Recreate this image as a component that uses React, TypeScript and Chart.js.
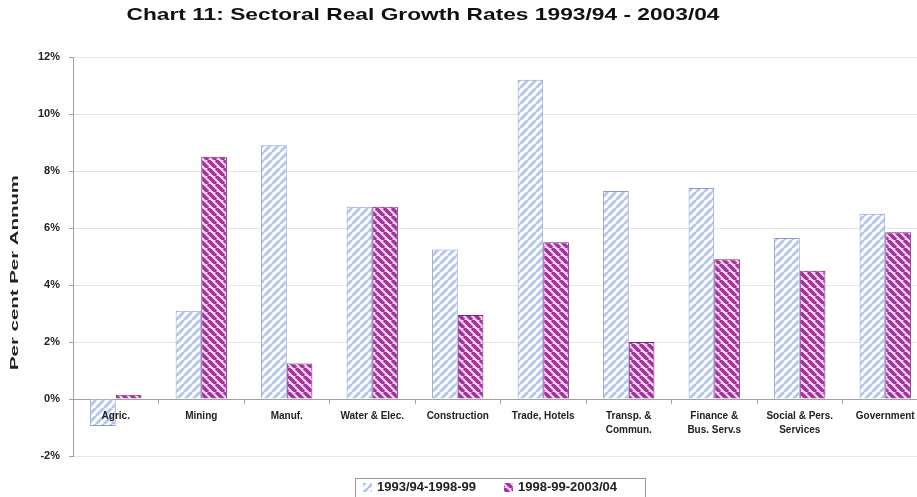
import React, { useEffect, useRef } from "react";
import { Chart, registerables } from "chart.js";

Chart.register(...registerables);

const chartTitle = "Chart 11: Sectoral Real Growth Rates 1993/94 - 2003/04";
const yAxisTitle = "Per cent Per Annum";
const categories: (string | string[])[] = [
  "Agric.",
  "Mining",
  "Manuf.",
  "Water & Elec.",
  "Construction",
  "Trade, Hotels",
  ["Transp. &", "Commun."],
  ["Finance &", "Bus. Serv.s"],
  ["Social & Pers.", "Services"],
  "Government",
];
const seriesLabels = ["1993/94-1998-99", "1998-99-2003/04"];
const growth9399 = [-0.95, 3.1, 8.9, 6.75, 5.25, 11.2, 7.3, 7.4, 5.65, 6.5];
const growth9904 = [0.15, 8.5, 1.25, 6.75, 2.95, 5.5, 2.0, 4.9, 4.5, 5.85];
const yMin = -2;
const yMax = 12;
const yStep = 2;

const FONT = "Arial, 'Liberation Sans', sans-serif";

function makePattern(bg: string, fg: string, dir: "/" | "\\", size: number, lw: number) {
  const c = document.createElement("canvas");
  c.width = size;
  c.height = size;
  const g = c.getContext("2d")!;
  g.fillStyle = bg;
  g.fillRect(0, 0, size, size);
  g.strokeStyle = fg;
  g.lineWidth = lw;
  g.beginPath();
  for (let k = -1; k <= 1; k++) {
    if (dir === "/") {
      g.moveTo(k * size, size);
      g.lineTo(k * size + size, 0);
    } else {
      g.moveTo(k * size, 0);
      g.lineTo(k * size + size, size);
    }
  }
  g.stroke();
  return g.createPattern(c, "repeat")!;
}

function stretchedText(c: CanvasRenderingContext2D, text: string, x: number, y: number, width: number, angle: number) {
  const w = c.measureText(text).width;
  c.save();
  c.translate(x, y);
  c.rotate(angle);
  c.scale(width / w, 1);
  c.textAlign = "center";
  c.textBaseline = "middle";
  c.fillText(text, 0, 0);
  c.restore();
}

export default function App() {
  const ref = useRef<HTMLCanvasElement | null>(null);

  useEffect(() => {
    const canvas = ref.current!;
    const ctx = canvas.getContext("2d")!;
    const bluePat = makePattern("#ffffff", "#b4c6f0", "/", 8, 3);
    const magPat = makePattern("#f6d6f4", "#a4329e", "\\", 8, 3.6);
    const borders = ["#8e9ccc", "#7a2a78"];
    const pats = [bluePat, magPat];

    const overlay = {
      id: "overlay",
      afterDraw(chart: any) {
        const c = chart.ctx as CanvasRenderingContext2D;
        c.save();
        // title
        c.fillStyle = "#111";
        c.font = `bold 17px ${FONT}`;
        stretchedText(c, chartTitle, 423, 15, 593, 0);
        // y-axis title
        const ys = chart.scales.y;
        c.fillStyle = "#222";
        c.font = `bold 10px ${FONT}`;
        stretchedText(c, yAxisTitle, 15, (ys.top + ys.bottom) / 2 + 16, 195, -Math.PI / 2);
        // legend box
        const bx = 355, by = 478, bw = 290, bh = 30;
        c.strokeStyle = "#9a9a9a";
        c.lineWidth = 1;
        c.strokeRect(bx + 0.5, by + 0.5, bw, bh);
        const items = [
          { x: 363, tx: 377 },
          { x: 504, tx: 518 },
        ];
        c.font = `bold 13px ${FONT}`;
        c.textAlign = "left";
        c.textBaseline = "middle";
        items.forEach((it, i) => {
          c.fillStyle = pats[i];
          c.fillRect(it.x, 483, 9, 9);
          c.fillStyle = "#222";
          c.fillText(chart.data.datasets[i].label, it.tx, 487);
        });
        c.restore();
      },
    };

    const chart = new Chart(ctx, {
      type: "bar",
      data: {
        labels: categories as any,
        datasets: [
          {
            label: seriesLabels[0],
            data: growth9399,
            backgroundColor: bluePat as any,
            borderColor: borders[0],
            borderWidth: 1,
          },
          {
            label: seriesLabels[1],
            data: growth9904,
            backgroundColor: magPat as any,
            borderColor: borders[1],
            borderWidth: 1,
          },
        ],
      },
      options: {
        responsive: false,
        animation: false,
        layout: { padding: { left: 0, right: 12, top: 57, bottom: 41 } },
        datasets: {
          bar: { categoryPercentage: 0.6, barPercentage: 1.0 },
        } as any,
        plugins: {
          legend: { display: false },
          title: { display: false },
          tooltip: { enabled: false },
        },
        scales: {
          x: {
            position: { y: 0 } as any,
            grid: {
              display: true,
              drawOnChartArea: false,
              drawTicks: true,
              tickLength: 4,
              offset: true,
              color: "#a0a0a0",
            },
            border: { display: true, color: "#a0a0a0" },
            ticks: {
              z: 1,
              padding: 6,
              maxRotation: 0,
              autoSkip: false,
              color: "#222",
              font: { family: FONT, size: 10, weight: "bold", lineHeight: 1.4 },
            } as any,
          },
          y: {
            min: yMin,
            max: yMax,
            afterFit(scale: any) {
              scale.width = 73;
            },
            grid: {
              color: "#e6e6e6",
              tickLength: 4,
              tickColor: "#a0a0a0",
            },
            border: { display: true, color: "#a0a0a0" },
            ticks: {
              stepSize: yStep,
              padding: 9,
              color: "#222",
              font: { family: FONT, size: 11, weight: "bold" },
              callback: (v: any) => `${v}%`,
            },
          },
        },
      },
      plugins: [overlay],
    });
    return () => chart.destroy();
  }, []);

  return (
    <div
      style={{
        position: "fixed",
        left: 0,
        top: 0,
        width: 917,
        height: 497,
        overflow: "hidden",
        background: "#fff",
      }}
    >
      <canvas ref={ref} width={940} height={497} style={{ display: "block" }} />
    </div>
  );
}
